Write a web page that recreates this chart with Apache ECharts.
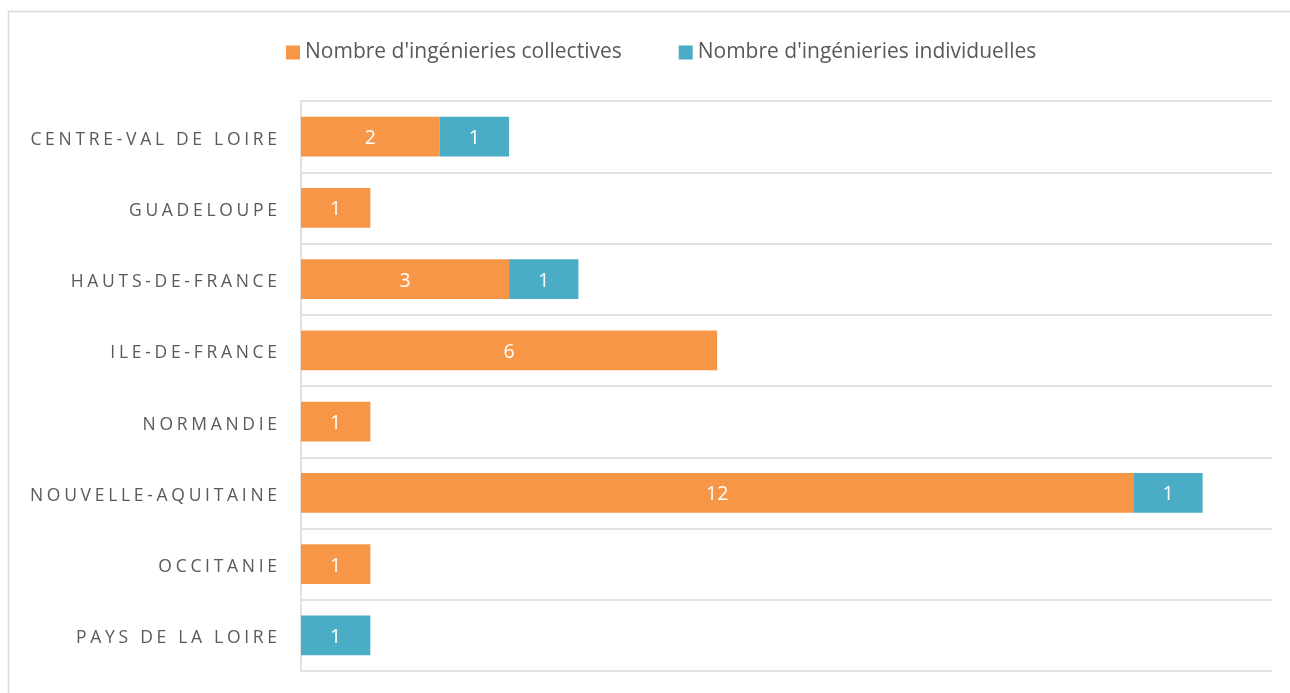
<!DOCTYPE html>
<html>
<head>
<meta charset="utf-8">
<script src="https://cdn.jsdelivr.net/npm/echarts@6/dist/echarts.min.js"></script>
<style>html,body{margin:0;padding:0;background:#fff;}#c{width:1290px;height:693px;}</style>
</head>
<body>
<div id="c"></div>
<script>
const categories = ['CENTRE-VAL DE LOIRE','GUADELOUPE','HAUTS-DE-FRANCE','ILE-DE-FRANCE','NORMANDIE','NOUVELLE-AQUITAINE','OCCITANIE','PAYS DE LA LOIRE'];
const collectives = [2, 1, 3, 6, 1, 12, 1, null];
const individuelles = [1, null, 1, null, null, 1, null, 1];
const seriesNames = ["Nombre d'ingénieries collectives", "Nombre d'ingénieries individuelles"];

// letter spacing for the category labels (spaced capitals), identified by their font size
(function(){
  const P = CanvasRenderingContext2D.prototype;
  const ft = P.fillText, mt = P.measureText;
  const SP = 3.7;
  function spaced(ctx){ return /17\.5px/.test(ctx.font); }
  function widthOf(ctx, s){
    let w = 0; const chars = Array.from(s);
    for (const c of chars) w += mt.call(ctx, c).width;
    return w + Math.max(0, chars.length - 1) * SP;
  }
  P.measureText = function(text){
    if (!spaced(this)) return mt.apply(this, arguments);
    const r = mt.call(this, text);
    const w = widthOf(this, String(text));
    return {width:w, actualBoundingBoxAscent:r.actualBoundingBoxAscent, actualBoundingBoxDescent:r.actualBoundingBoxDescent,
            actualBoundingBoxLeft:r.actualBoundingBoxLeft, actualBoundingBoxRight:w,
            fontBoundingBoxAscent:r.fontBoundingBoxAscent, fontBoundingBoxDescent:r.fontBoundingBoxDescent};
  };
  P.fillText = function(text, x, y){
    if (!spaced(this)) return ft.apply(this, arguments);
    const s = String(text), W = widthOf(this, s), a = this.textAlign;
    let sx = x;
    if (a === 'right' || a === 'end') sx = x - W; else if (a === 'center') sx = x - W / 2;
    this.textAlign = 'left';
    for (const c of Array.from(s)) { ft.call(this, c, sx, y); sx += mt.call(this, c).width + SP; }
    this.textAlign = a;
  };
})();

const chart = echarts.init(document.getElementById('c'), null, {renderer:'canvas'});
const labelStyle = {show:true, color:'#ffffff', fontFamily:'Open Sans', fontSize:19.5, offset:[0,2], formatter: p => p.value};
chart.setOption({
  animation:false,
  backgroundColor:'#ffffff',
  graphic:[{type:'rect', shape:{x:8.5,y:11.5,width:1300,height:700}, style:{fill:'none', stroke:'#d9d9d9', lineWidth:1.5}, z:-1}],
  legend:{
    left:281, top:37, itemWidth:14, itemHeight:14, itemGap:57, icon:'rect',
    textStyle:{color:'#595959', fontFamily:'Open Sans', fontSize:21, padding:[0,0,0,0]},
    data:seriesNames
  },
  grid:{left:301, right:18, top:101, bottom:22, containLabel:false},
  xAxis:{type:'value', min:0, max:14, interval:1, show:false, splitLine:{show:false}},
  yAxis:{
    type:'category', data:categories, inverse:true,
    axisLine:{show:true, lineStyle:{color:'#d9d9d9', width:1.5}},
    axisTick:{show:false},
    splitLine:{show:true, lineStyle:{color:'#d9d9d9', width:1.5}},
    axisLabel:{color:'#595959', fontFamily:'Open Sans', fontSize:17.5, margin:24, verticalAlign:'top', lineHeight:6}
  },
  series:[
    {name:seriesNames[0], type:'bar', stack:'t', data:collectives, barWidth:'56%', itemStyle:{color:'#F79646'}, label:labelStyle},
    {name:seriesNames[1], type:'bar', stack:'t', data:individuelles, barWidth:'56%', itemStyle:{color:'#4BACC6'}, label:labelStyle}
  ]
});
</script>
</body>
</html>
